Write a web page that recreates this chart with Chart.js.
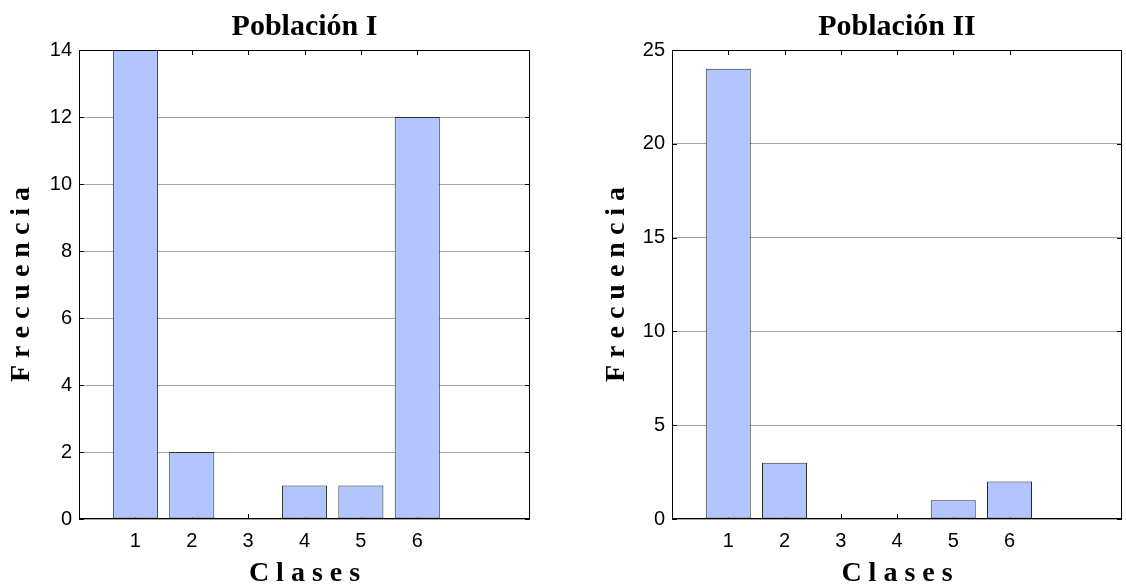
<!DOCTYPE html>
<html><head><meta charset="utf-8">
<script src="https://cdn.jsdelivr.net/npm/chart.js@4.4.0/dist/chart.umd.min.js"></script>
<style>
html,body{margin:0;padding:0;background:#fff;overflow:hidden;width:1126px;height:588px;position:relative}
#c1{position:absolute;left:0;top:0}
#c2{position:absolute;left:560px;top:0}
</style></head><body>
<canvas id="c1" width="609" height="588"></canvas>
<canvas id="c2" width="674" height="588"></canvas>
<script>
// ---- data ----
const clases = [1, 2, 3, 4, 5, 6];
const xTickLabels = ['1', '2', '3', '4', '5', '6'];
const frecuenciaPoblacionI = [14, 2, 0, 1, 1, 12];
const frecuenciaPoblacionII = [24, 3, 0, 0, 1, 2];
const yTicksI = [0, 2, 4, 6, 8, 10, 12, 14];
const yTicksII = [0, 5, 10, 15, 20, 25];
const tituloI = 'Población I';
const tituloII = 'Población II';
const tituloX = 'C l a s e s';
const tituloY = 'F r e c u e n c i a';

Chart.defaults.font.family = "'Liberation Sans', Arial, sans-serif";
Chart.defaults.color = '#000';

const boxPlugin = {
  id: 'boxTicks',
  beforeDatasetsDraw(chart, args, opts) {
    const {ctx, chartArea: a, scales: {x, y}} = chart;
    const yTicks = opts.yTicks || [];
    ctx.save();
    ctx.strokeStyle = '#000';
    ctx.lineWidth = 1;
    ctx.beginPath();
    const tl = 5;
    yTicks.forEach(v => {
      const py = Math.round(y.getPixelForValue(v)) + 0.5;
      ctx.moveTo(a.left, py); ctx.lineTo(a.left + tl, py);
      ctx.moveTo(a.right, py); ctx.lineTo(a.right - tl, py);
    });
    clases.forEach(v => {
      const px = Math.round(x.getPixelForValue(v)) + 0.5;
      ctx.moveTo(px, a.bottom); ctx.lineTo(px, a.bottom - tl);
      ctx.moveTo(px, a.top); ctx.lineTo(px, a.top + tl);
    });
    ctx.stroke();
    ctx.restore();
  },
  afterDatasetsDraw(chart) {
    const {ctx, chartArea: a} = chart;
    ctx.save();
    ctx.strokeStyle = '#000';
    ctx.lineWidth = 1;
    const l = Math.round(a.left) + 0.5, t = Math.round(a.top) + 0.5;
    const r = Math.round(a.right) - 0.5, b = Math.round(a.bottom) - 0.5;
    ctx.strokeRect(l, t, r - l, b - t);
    ctx.restore();
  }
};

function makeChart(id, titulo, valores, yTicks, sideWidth, yTitlePad) {
  const yMax = yTicks[yTicks.length - 1];
  const step = yTicks[1] - yTicks[0];
  return new Chart(document.getElementById(id), {
    type: 'bar',
    data: {
      labels: clases,
      datasets: [{
        data: valores,
        backgroundColor: '#b2c5fe',
        borderColor: '#2b2b2b',
        borderWidth: 1,
        borderSkipped: false,
        categoryPercentage: 1,
        barPercentage: 0.8
      }]
    },
    options: {
      responsive: false,
      animation: false,
      devicePixelRatio: 1,
      layout: {padding: 0},
      plugins: {
        legend: {display: false},
        tooltip: {enabled: false},
        boxTicks: {yTicks: yTicks},
        title: {
          display: true,
          text: titulo,
          color: '#000',
          font: {family: "'Liberation Serif', 'Times New Roman', serif", size: 30, weight: 'bold'},
          padding: {top: 9, bottom: 5}
        }
      },
      scales: {
        x: {
          type: 'linear',
          offset: false,
          min: 0, max: 8,
          grid: {display: false, offset: false, drawTicks: false},
          border: {display: false},
          ticks: {
            stepSize: 1,
            autoSkip: false,
            maxRotation: 0,
            align: 'inner',
            padding: 10,
            font: {size: 20},
            color: '#000',
            callback: v => { const i = clases.indexOf(v); return i >= 0 ? xTickLabels[i] : ''; }
          },
          title: {
            display: true,
            text: tituloX,
            color: '#000',
            font: {family: "'Liberation Serif', 'Times New Roman', serif", size: 28, weight: 'bold', lineHeight: 1},
            padding: {top: 0, bottom: 0}
          },
          afterFit: s => { s.height = 69; }
        },
        y: {
          min: 0, max: yMax,
          grid: {color: '#a6a6a6', lineWidth: 1, drawTicks: false},
          border: {display: false},
          ticks: {
            stepSize: step,
            padding: 7,
            font: {size: 20},
            color: '#000',
            callback: v => yTicks.includes(v) ? String(v) : ''
          },
          title: {
            display: true,
            text: tituloY,
            color: '#000',
            font: {family: "'Liberation Serif', 'Times New Roman', serif", size: 28, weight: 'bold', lineHeight: 1},
            padding: {top: yTitlePad, bottom: 0}
          },
          afterFit: s => { s.width = sideWidth; }
        },
        yBalance: {
          position: 'right',
          min: 0, max: 1,
          grid: {display: false, drawTicks: false},
          border: {display: false},
          ticks: {display: false},
          title: {display: false},
          afterFit: s => { s.width = sideWidth; }
        }
      }
    },
    plugins: [boxPlugin]
  });
}

makeChart('c1', tituloI, frecuenciaPoblacionI, yTicksI, 79, 8);
makeChart('c2', tituloII, frecuenciaPoblacionII, yTicksII, 112, 43);
</script>
</body></html>
